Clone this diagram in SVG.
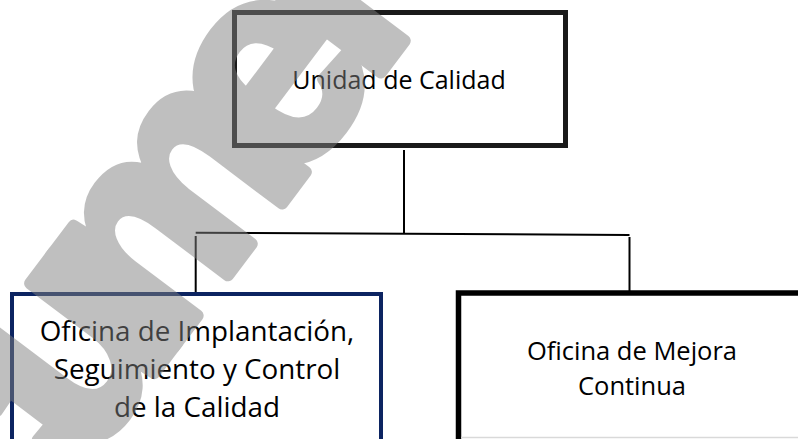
<svg xmlns="http://www.w3.org/2000/svg" width="798" height="439" viewBox="0 0 798 439">
<style>
.lbl{font-family:"Open Sans","Noto Sans",sans-serif;fill:#000;text-anchor:middle}
.conn{stroke:#000;stroke-width:2;fill:none}
.wm{font-family:"Liberation Sans",Arial,sans-serif;font-weight:bold;font-size:290px;fill:#808080;stroke:#808080;stroke-width:12;stroke-linejoin:round}
</style>
<rect width="798" height="439" fill="#fff"/>
<g id="connectors">
<line class="conn" x1="404" y1="150" x2="404" y2="233"/>
<line class="conn" x1="195.7" y1="232.7" x2="629.5" y2="235"/>
<line class="conn" x1="195.7" y1="236" x2="195.7" y2="293"/>
<line class="conn" x1="629.5" y1="237" x2="629.5" y2="293"/>
</g>
<g id="unidad-calidad">
<rect x="234.5" y="12.5" width="331" height="133" fill="none" stroke="#1a1a1a" stroke-width="5"/>
<text class="lbl" x="399" y="89" font-size="25">Unidad de Calidad</text>
</g>
<g id="oficina-implantacion">
<rect x="12" y="294" width="369" height="200" fill="none" stroke="#0c2461" stroke-width="4"/>
<text class="lbl" x="197" y="341" font-size="27.8">Oficina de Implantación,</text>
<text class="lbl" x="197" y="379" font-size="27.8">Seguimiento y Control</text>
<text class="lbl" x="197" y="417" font-size="27.8">de la Calidad</text>
</g>
<g id="oficina-mejora">
<rect x="458.5" y="293" width="400" height="200" fill="none" stroke="#000" stroke-width="5.5"/>
<line x1="461" y1="437.5" x2="798" y2="437.5" stroke="#d9d9d9" stroke-width="1.5"/>
<text class="lbl" x="632" y="360" font-size="25.5">Oficina de Mejora</text>
<text class="lbl" x="632" y="395" font-size="25.5">Continua</text>
</g>
<g id="watermark" opacity="0.5">
<text class="wm" x="12" y="562" dx="0 -45 -45 -45 -30" transform="rotate(-53 12 562)">cumen</text>
</g>
</svg>
